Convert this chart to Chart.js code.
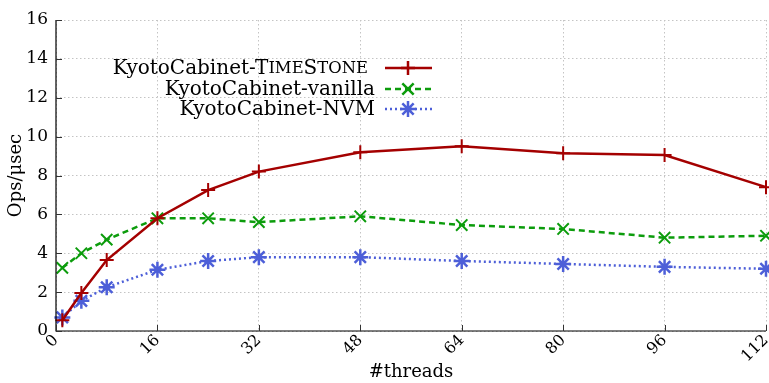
<!DOCTYPE html>
<html>
<head>
<meta charset="utf-8">
<script src="https://cdn.jsdelivr.net/npm/chart.js@4"></script>
<style>
  body { margin: 0; background: #fff; }
  #wrap { width: 769px; height: 383px; }
</style>
</head>
<body>
<div id="wrap"><canvas id="chart" width="769" height="383"></canvas></div>
<script>
const threads = [1, 4, 8, 16, 24, 32, 48, 64, 80, 96, 112];
const timestone = [0.55, 1.95, 3.65, 5.8, 7.25, 8.2, 9.2, 9.5, 9.15, 9.05, 7.4];
const vanilla = [3.25, 4.0, 4.7, 5.8, 5.8, 5.6, 5.9, 5.45, 5.25, 4.8, 4.9];
const nvm = [0.7, 1.55, 2.25, 3.15, 3.6, 3.8, 3.8, 3.6, 3.45, 3.3, 3.2];
const xTicks = [0, 16, 32, 48, 64, 80, 96, 112];

const FONT = '"DejaVu Serif", serif';

const toXY = (vals) => vals.map((v, i) => ({ x: threads[i], y: v }));

// legend with right aligned text and line sample on the right
const legendPlugin = {
  id: 'sideLegend',
  afterDraw(chart) {
    const ctx = chart.ctx;
    const rows = [
      { parts: [['KyotoCabinet-T', 1], ['IME', 0.82], ['S', 1], ['TONE', 0.82]], ds: 0, y: 68, right: 368 },
      { parts: [['KyotoCabinet-vanilla', 1]], ds: 1, y: 89, right: 375 },
      { parts: [['KyotoCabinet-NVM', 1]], ds: 2, y: 109, right: 375 },
    ];
    const size = 20;
    ctx.save();
    ctx.textBaseline = 'middle';
    ctx.fillStyle = '#000';
    rows.forEach(r => {
      let w = 0;
      r.parts.forEach(p => { ctx.font = (size * p[1]) + 'px ' + FONT; w += ctx.measureText(p[0]).width; });
      let x = r.right - w;
      r.parts.forEach(p => {
        ctx.font = (size * p[1]) + 'px ' + FONT;
        ctx.textAlign = 'left';
        ctx.fillText(p[0], x, r.y + 1);
        x += ctx.measureText(p[0]).width;
      });
      const ds = chart.data.datasets[r.ds];
      ctx.strokeStyle = ds.borderColor;
      ctx.lineWidth = ds.borderWidth;
      ctx.setLineDash(ds.borderDash || []);
      ctx.beginPath();
      ctx.moveTo(385, r.y);
      ctx.lineTo(432, r.y);
      ctx.stroke();
      ctx.setLineDash([]);
      Chart.helpers.drawPoint(ctx, {
        pointStyle: ds.pointStyle, radius: ds.pointRadius, borderWidth: ds.pointBorderWidth, rotation: 0
      }, 408, r.y);
    });
    ctx.restore();
  }
};

// solid axes with inward tick marks
const axesPlugin = {
  id: 'inAxes',
  afterDatasetsDraw(chart) {
    const ctx = chart.ctx;
    const a = chart.chartArea;
    const xs = chart.scales.x, ys = chart.scales.y;
    ctx.save();
    ctx.strokeStyle = '#000';
    ctx.lineWidth = 1.2;
    ctx.beginPath();
    ctx.moveTo(a.left, a.top);
    ctx.lineTo(a.left, a.bottom);
    ctx.lineTo(a.right, a.bottom);
    ctx.stroke();
    ctx.strokeStyle = '#333';
    ctx.lineWidth = 1;
    ctx.beginPath();
    xTicks.forEach(t => {
      const px = Math.round(xs.getPixelForValue(t)) + 0.5;
      ctx.moveTo(px, a.bottom);
      ctx.lineTo(px, a.bottom - 6);
    });
    for (let v = 0; v <= 16; v += 2) {
      const py = Math.round(ys.getPixelForValue(v)) + 0.5;
      ctx.moveTo(a.left, py);
      ctx.lineTo(a.left + 6, py);
    }
    ctx.stroke();
    ctx.restore();
  }
};

new Chart(document.getElementById('chart'), {
  type: 'line',
  data: {
    datasets: [
      {
        label: 'KyotoCabinet-TimeStone',
        data: toXY(timestone),
        borderColor: '#a40000',
        backgroundColor: '#a40000',
        borderWidth: 2.5,
        pointStyle: 'cross',
        pointRadius: 7,
        pointBorderWidth: 2,
        pointBorderColor: '#a40000',
        clip: false,
      },
      {
        label: 'KyotoCabinet-vanilla',
        data: toXY(vanilla),
        borderColor: '#0c9c0c',
        backgroundColor: '#0c9c0c',
        borderWidth: 2.5,
        borderDash: [6, 4],
        pointStyle: 'crossRot',
        pointRadius: 8,
        pointBorderWidth: 2,
        pointBorderColor: '#0c9c0c',
        clip: false,
      },
      {
        label: 'KyotoCabinet-NVM',
        data: toXY(nvm),
        borderColor: '#4d5fd8',
        backgroundColor: '#4d5fd8',
        borderWidth: 2.5,
        borderDash: [2, 3],
        pointStyle: 'star',
        pointRadius: 8,
        pointBorderWidth: 2.5,
        pointBorderColor: '#4d5fd8',
        clip: false,
      },
    ]
  },
  options: {
    responsive: false,
    animation: false,
    layout: { autoPadding: false, padding: { top: 20, right: 3, left: 0, bottom: 0 } },
    plugins: {
      legend: { display: false },
      tooltip: { enabled: false },
    },
    scales: {
      x: {
        type: 'linear',
        min: 0,
        max: 112,
        afterFit: (s) => { s.height = 52; s.paddingLeft = 0; s.paddingRight = 0; },
        afterBuildTicks: (s) => { s.ticks = xTicks.map(v => ({ value: v })); },
        ticks: {
          color: '#000',
          font: { family: FONT, size: 16 },
          maxRotation: 45,
          minRotation: 45,
          padding: 0,
        },
        grid: { color: '#c4c4c4', drawTicks: false },
        border: { display: false, dash: [1.5, 2.5] },
        title: {
          display: true,
          text: '#threads',
          color: '#000',
          font: { family: FONT, size: 18 },
          padding: { top: 4, bottom: 0 },
        },
      },
      y: {
        min: 0,
        max: 16,
        afterFit: (s) => { s.width = 56; },
        ticks: {
          stepSize: 2,
          color: '#000',
          font: { family: FONT, size: 17 },
          padding: 8,
        },
        grid: { color: '#c4c4c4', drawTicks: false },
        border: { display: false, dash: [1.5, 2.5] },
        title: {
          display: true,
          text: 'Ops/μsec',
          color: '#000',
          font: { family: FONT, size: 18 },
          padding: { top: 6, bottom: 0 },
        },
      }
    }
  },
  plugins: [legendPlugin, axesPlugin]
});
</script>
</body>
</html>
